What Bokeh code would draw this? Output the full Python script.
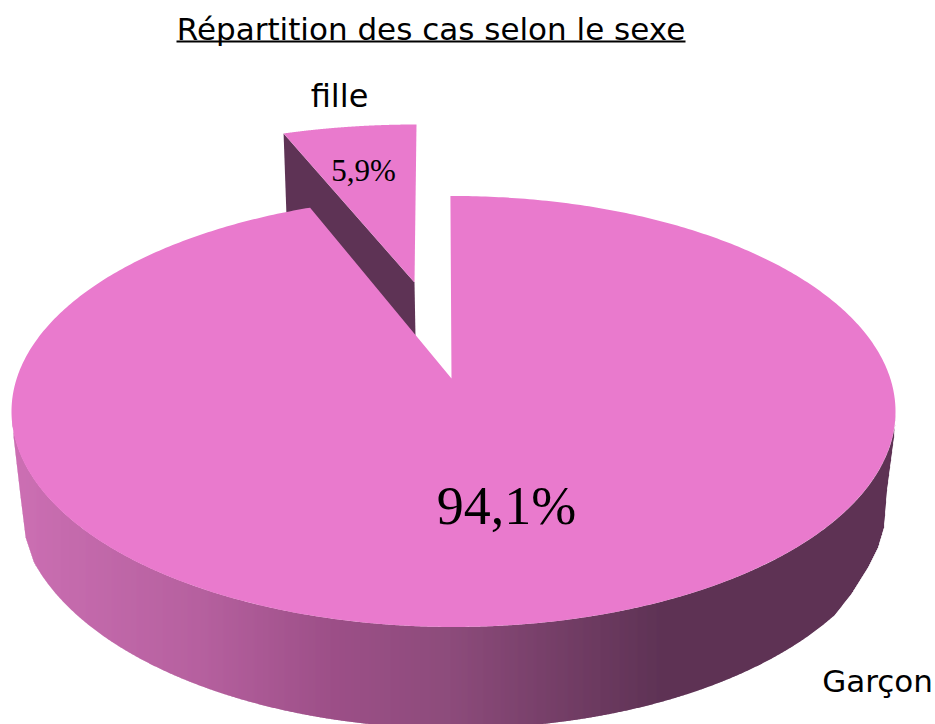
import numpy as np
from bokeh.plotting import figure
from bokeh.models import Range1d
from bokeh.core.properties import value
from bokeh.embed import file_html
from bokeh.resources import INLINE

# ---- chart content
title_text = "Répartition des cas selon le sexe"
categories = ["Garçon", "fille"]
shares = [94.1, 5.9]
share_labels = ["94,1%", "5,9%"]

# ---- colours
top_color = "#E97ACD"
dark_color = "#5E3355"
gradient_x = [12, 60, 200, 330, 450, 600, 665, 900]
gradient_r = [205, 198, 182, 157, 141, 108, 94, 94]
gradient_g = [112, 108, 97, 80, 76, 58, 51, 51]
gradient_b = [180, 174, 159, 136, 124, 96, 85, 85]

# ---- pie geometry, in page pixels of the picture
main_c = (453.0, 411.0); main_a, main_b = 442.0, 215.5
main_apex = (451.0, 378.0)
main_start = -0.4; main_warp = 1.008
low_c = (455.0, 500.0); low_a, low_b = 438.0, 228.0
fille_c = (416.0, 318.0); fille_a, fille_b = 442.0, 194.0
fille_apex = (414.0, 282.0); fille_end = 0.0; fille_warp = 0.824
fille_depth = 55.0
left_corner_x, left_corner_y = [12, 13, 20, 25, 33], [411, 437, 497, 537, 561]
right_corner_x = [833, 850, 867, 877, 883, 886, 893, 895]
right_corner_y = [615.5, 594, 567, 547, 527, 490, 437, 411]


def arc(c, a, b, t0, t1, n=240):
    t = np.radians(np.linspace(t0, t1, n))
    return c[0] + a * np.sin(t), c[1] - b * np.cos(t)


def upper(x):
    u = np.clip((x - main_c[0]) / main_a, -1, 1)
    return main_c[1] + main_b * np.sqrt(1 - u * u)


def lower(x):
    if x <= left_corner_x[-1]:
        return np.interp(x, left_corner_x, left_corner_y)
    if x >= right_corner_x[0]:
        return np.interp(x, right_corner_x, right_corner_y)
    u = (x - low_c[0]) / low_a
    return low_c[1] + low_b * np.sqrt(1 - u * u)


p = figure(width=935, height=724, x_range=Range1d(0, 935), y_range=Range1d(724, 0),
           output_backend="svg", toolbar_location=None, min_border=0,
           x_axis_type=None, y_axis_type=None, outline_line_color=None,
           background_fill_color="white", border_fill_color="white")
p.grid.visible = False

# side wall of the large slice, as narrow vertical strips
edges = np.arange(12.0, 895.0, 1.0)
sx, sy, sc = [], [], []
for x0 in edges:
    x1 = x0 + 1.0
    xr = x1 + 0.6
    sx.append([x0, xr, xr, x0])
    sy.append([upper(x0), upper(x1), lower(x1), lower(x0)])
    xm = x0 + 0.5
    sc.append("#%02x%02x%02x" % (int(np.interp(xm, gradient_x, gradient_r)),
                                 int(np.interp(xm, gradient_x, gradient_g)),
                                 int(np.interp(xm, gradient_x, gradient_b))))
p.patches(sx, sy, fill_color=sc, line_color=None)

# small slice, pulled out
fille_sweep = shares[1] / 100 * 360 * fille_warp
fx, fy = arc(fille_c, fille_a, fille_b, fille_end - fille_sweep, fille_end)
p.patch([fx[0], fille_apex[0], fille_apex[0] + 1, fx[0] + 3],
        [fy[0], fille_apex[1], fille_apex[1] + fille_depth, fy[0] + fille_depth + 30],
        fill_color=dark_color, line_color=None)

# top of the large slice
main_sweep = shares[0] / 100 * 360 * main_warp
mx, my = arc(main_c, main_a, main_b, main_start, main_start + main_sweep, 600)
p.patch(list(mx) + [main_apex[0]], list(my) + [main_apex[1]],
        fill_color=top_color, line_color=None)

# top of the small slice
p.patch(list(fx) + [fille_apex[0]], list(fy) + [fille_apex[1]],
        fill_color=top_color, line_color=None)

# texts
p.text([430.5], [28], text=[title_text], text_font=value("DejaVu Sans"), text_font_size="31px",
       text_align="center", text_baseline="middle", text_color="black")
p.line([176, 685], [41, 41], line_color="black", line_width=2)
p.text([339], [95], text=[categories[1]], text_font=value("DejaVu Sans"), text_font_size="32px",
       text_align="center", text_baseline="middle", text_color="black")
p.text([877], [680], text=[categories[0]], text_font=value("DejaVu Sans"), text_font_size="31px",
       text_align="center", text_baseline="middle", text_color="black")
p.text([506], [505], text=[share_labels[0]], text_font=value("Liberation Serif"), text_font_size="54px",
       text_align="center", text_baseline="middle", text_color="black")
p.text([363], [170], text=[share_labels[1]], text_font=value("Liberation Serif"), text_font_size="31px",
       text_align="center", text_baseline="middle", text_color="black")

open("out.html", "w").write(file_html(p, INLINE))
